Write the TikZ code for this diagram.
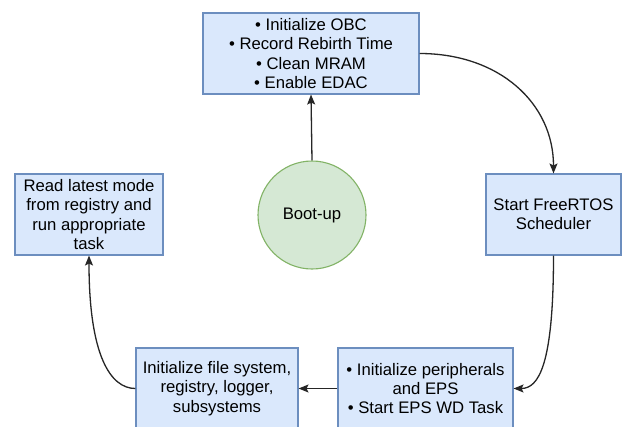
\documentclass[tikz,border=0pt]{standalone}
\usepackage{fontspec}
\setmainfont{Liberation Sans}
\usetikzlibrary{arrows.meta}
\definecolor{bfill}{HTML}{DAE8FC}
\definecolor{bdraw}{HTML}{6C8EBF}
\definecolor{gfill}{HTML}{D5E8D4}
\definecolor{gdraw}{HTML}{82B366}
\begin{document}
\begin{tikzpicture}[x=1pt,y=1pt,
  box/.style={draw=bdraw,fill=bfill,line width=1.1pt,rectangle,align=center,
    font=\fontsize{16.7}{19.2}\selectfont,inner sep=0pt},
  circ/.style={draw=gdraw,fill=gfill,line width=1.1pt,circle,align=center,
    font=\fontsize{16.7}{19.2}\selectfont,inner sep=0pt,minimum size=108pt},
  conn/.style={draw=black!85,line width=1.3pt,-{Stealth[length=10pt,width=8pt,inset=2pt]}}]
\useasboundingbox (0,0) rectangle (624,-426);
\clip (0,0) rectangle (624,-426);
\fill[white] (0,0) rectangle (624,-426);
\node[box,minimum width=216pt,minimum height=81pt] (top) at (311,-53.5)
  {• Initialize OBC\\• Record Rebirth Time\\• Clean MRAM\\• Enable EDAC};
\node[box,minimum width=148pt,minimum height=81pt] (left) at (89,-214.5)
  {Read latest mode\\from registry and\\run appropriate\\task};
\node[box,minimum width=135pt,minimum height=81pt] (right) at (553.5,-214.5)
  {Start FreeRTOS\\Scheduler};
\node[box,minimum width=162pt,minimum height=81pt] (bl) at (217,-388.5)
  {Initialize file system,\\registry, logger,\\subsystems};
\node[box,minimum width=175pt,minimum height=81pt] (br) at (425.5,-388.5)
  {• Initialize peripherals\\and EPS\\• Start EPS WD Task};
\node[circ] (boot) at (312,-215) {Boot-up};
\draw[conn] (boot.north) -- (top.south);
\draw[conn] (top.east) to[out=0,in=90,out distance=80pt,in distance=70pt] (right.north);
\draw[conn] (right.south) to[out=-90,in=0,out distance=110pt,in distance=25pt] (br.east);
\draw[conn] (br.west) -- (bl.west -| bl.east);
\draw[conn] (bl.west) to[out=180,in=-90,out distance=25pt,in distance=100pt] (left.south);
\end{tikzpicture}
\end{document}
